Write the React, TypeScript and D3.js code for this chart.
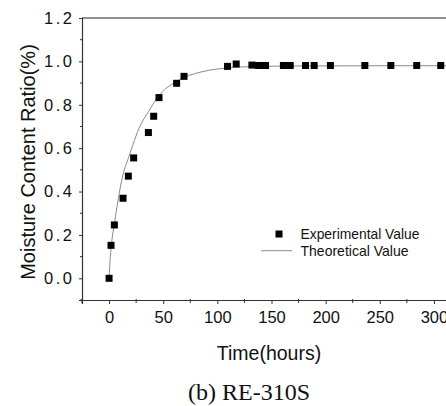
import React, { useEffect, useRef } from 'react';
import * as d3 from 'd3';

// experimental points (hours, ratio)
const expTime = [0, 1.8, 4.9, 12.9, 17.8, 22.7, 36.3, 41.2, 46.1, 62.4, 69.2, 109.4, 117.4, 131.9, 138, 144.5, 161, 167.3, 181.4, 189.4, 204.4, 236.2, 260.2, 284.1, 306.3];
const expRatio = [0, 0.152, 0.246, 0.369, 0.471, 0.555, 0.672, 0.747, 0.833, 0.899, 0.931, 0.977, 0.988, 0.983, 0.981, 0.981, 0.981, 0.981, 0.981, 0.981, 0.981, 0.981, 0.981, 0.981, 0.981];

// theoretical curve
const theoTime = [0, 1.2, 2.5, 4.9, 8.3, 12.6, 18.1, 22, 27.5, 36.6, 44.3, 51.3, 60, 68.8, 80, 93.5, 115, 140, 180, 250, 330];
const theoRatio = [0, 0.1, 0.17, 0.25, 0.36, 0.473, 0.558, 0.615, 0.69, 0.77, 0.83, 0.87, 0.9, 0.925, 0.945, 0.96, 0.972, 0.977, 0.979, 0.98, 0.98];

const xTicks = [0, 50, 100, 150, 200, 250, 300];
const yTicks = [0, 0.2, 0.4, 0.6, 0.8, 1.0, 1.2];

export default function App() {
  const ref = useRef<SVGSVGElement>(null);

  useEffect(() => {
    const w = 446;
    const svg = d3.select(ref.current);
    svg.selectAll('*').remove();

    const x = d3.scaleLinear().domain([-25, 325]).range([82, 461]);
    const y = d3.scaleLinear().domain([-0.1, 1.2]).range([300, 18]);
    const font = 'Liberation Sans, Arial, sans-serif';

    // frame
    svg.append('line')
      .attr('x1', 82).attr('x2', w).attr('y1', 18).attr('y2', 18)
      .attr('stroke', '#222').attr('stroke-width', 1.2);

    const xAxis = d3.axisBottom(x).tickValues(xTicks).tickSize(4).tickPadding(7)
      .tickFormat(d3.format('d'));
    const gx = svg.append('g')
      .attr('transform', 'translate(0,300)')
      .call(xAxis);
    gx.selectAll('text').attr('font-size', 16.5).attr('font-family', font).attr('fill', '#111');
    gx.select('.domain').attr('stroke', '#333').attr('stroke-width', 1.2);
    gx.selectAll('.tick line').attr('stroke', '#333');
    gx.selectAll('.minor')
      .data(d3.range(-25, 326, 50))
      .enter().append('line')
      .attr('x1', d => x(d)).attr('x2', d => x(d))
      .attr('y1', -1).attr('y2', 3)
      .attr('stroke', '#333');

    const yAxis = d3.axisLeft(y).tickValues(yTicks).tickSize(3).tickPadding(7)
      .tickFormat(d3.format('.1f'));
    const gy = svg.append('g')
      .attr('transform', 'translate(82,0)')
      .call(yAxis);
    gy.selectAll('text').attr('font-size', 16.5).attr('font-family', font).attr('fill', '#111')
      .attr('x', -10)
      .attr('textLength', 28).attr('lengthAdjust', 'spacing');
    gy.select('.domain').attr('stroke', '#333').attr('stroke-width', 1.2);
    gy.selectAll('.tick line').attr('stroke', '#333');
    gy.selectAll('.minor')
      .data([-0.1, 0.1, 0.3, 0.5, 0.7, 0.9, 1.1])
      .enter().append('line')
      .attr('x1', -2).attr('x2', 0)
      .attr('y1', d => y(d)).attr('y2', d => y(d))
      .attr('stroke', '#333');

    // theoretical line
    const line = d3.line<number>()
      .x((d, i) => x(theoTime[i]))
      .y(d => y(d))
      .curve(d3.curveMonotoneX);
    svg.append('path')
      .attr('d', line(theoRatio))
      .attr('fill', 'none')
      .attr('stroke', '#8a8a8a')
      .attr('stroke-width', 1);

    // experimental squares
    svg.selectAll('.pt')
      .data(expRatio)
      .enter().append('rect')
      .attr('x', (d, i) => x(expTime[i]) - 3.5)
      .attr('y', d => y(d) - 3.5)
      .attr('width', 7).attr('height', 7)
      .attr('fill', '#000');

    // legend
    svg.append('rect')
      .attr('x', 275.5).attr('y', 230.5).attr('width', 7).attr('height', 7)
      .attr('fill', '#000');
    svg.append('text')
      .attr('x', 300.5).attr('y', 239)
      .attr('font-size', 14.5).attr('font-family', font).attr('fill', '#111')
      .attr('textLength', 119).attr('lengthAdjust', 'spacingAndGlyphs')
      .text('Experimental Value');
    svg.append('line')
      .attr('x1', 261).attr('x2', 292).attr('y1', 250.7).attr('y2', 250.7)
      .attr('stroke', '#8a8a8a').attr('stroke-width', 1);
    svg.append('text')
      .attr('x', 300.5).attr('y', 256)
      .attr('font-size', 14.5).attr('font-family', font).attr('fill', '#111')
      .attr('textLength', 108).attr('lengthAdjust', 'spacingAndGlyphs')
      .text('Theoretical Value');

    // axis titles
    svg.append('text')
      .attr('x', 269).attr('y', 360)
      .attr('text-anchor', 'middle')
      .attr('font-size', 19.5).attr('font-family', font).attr('fill', '#111')
      .text('Time(hours)');
    svg.append('text')
      .attr('transform', 'translate(34.5,162) rotate(-90)')
      .attr('text-anchor', 'middle')
      .attr('font-size', 20).attr('font-family', font).attr('fill', '#111')
      .text('Moisture Content Ratio(%)');

    // caption
    svg.append('text')
      .attr('x', 249).attr('y', 400)
      .attr('text-anchor', 'middle')
      .attr('font-size', 24).attr('font-family', 'Liberation Serif, Times New Roman, serif')
      .attr('fill', '#111')
      .text('(b) RE-310S');
  }, []);

  return (
    <div style={{ position: 'absolute', left: 0, top: 0 }}>
      <svg ref={ref} width={446} height={406} style={{ display: 'block' }} />
    </div>
  );
}
